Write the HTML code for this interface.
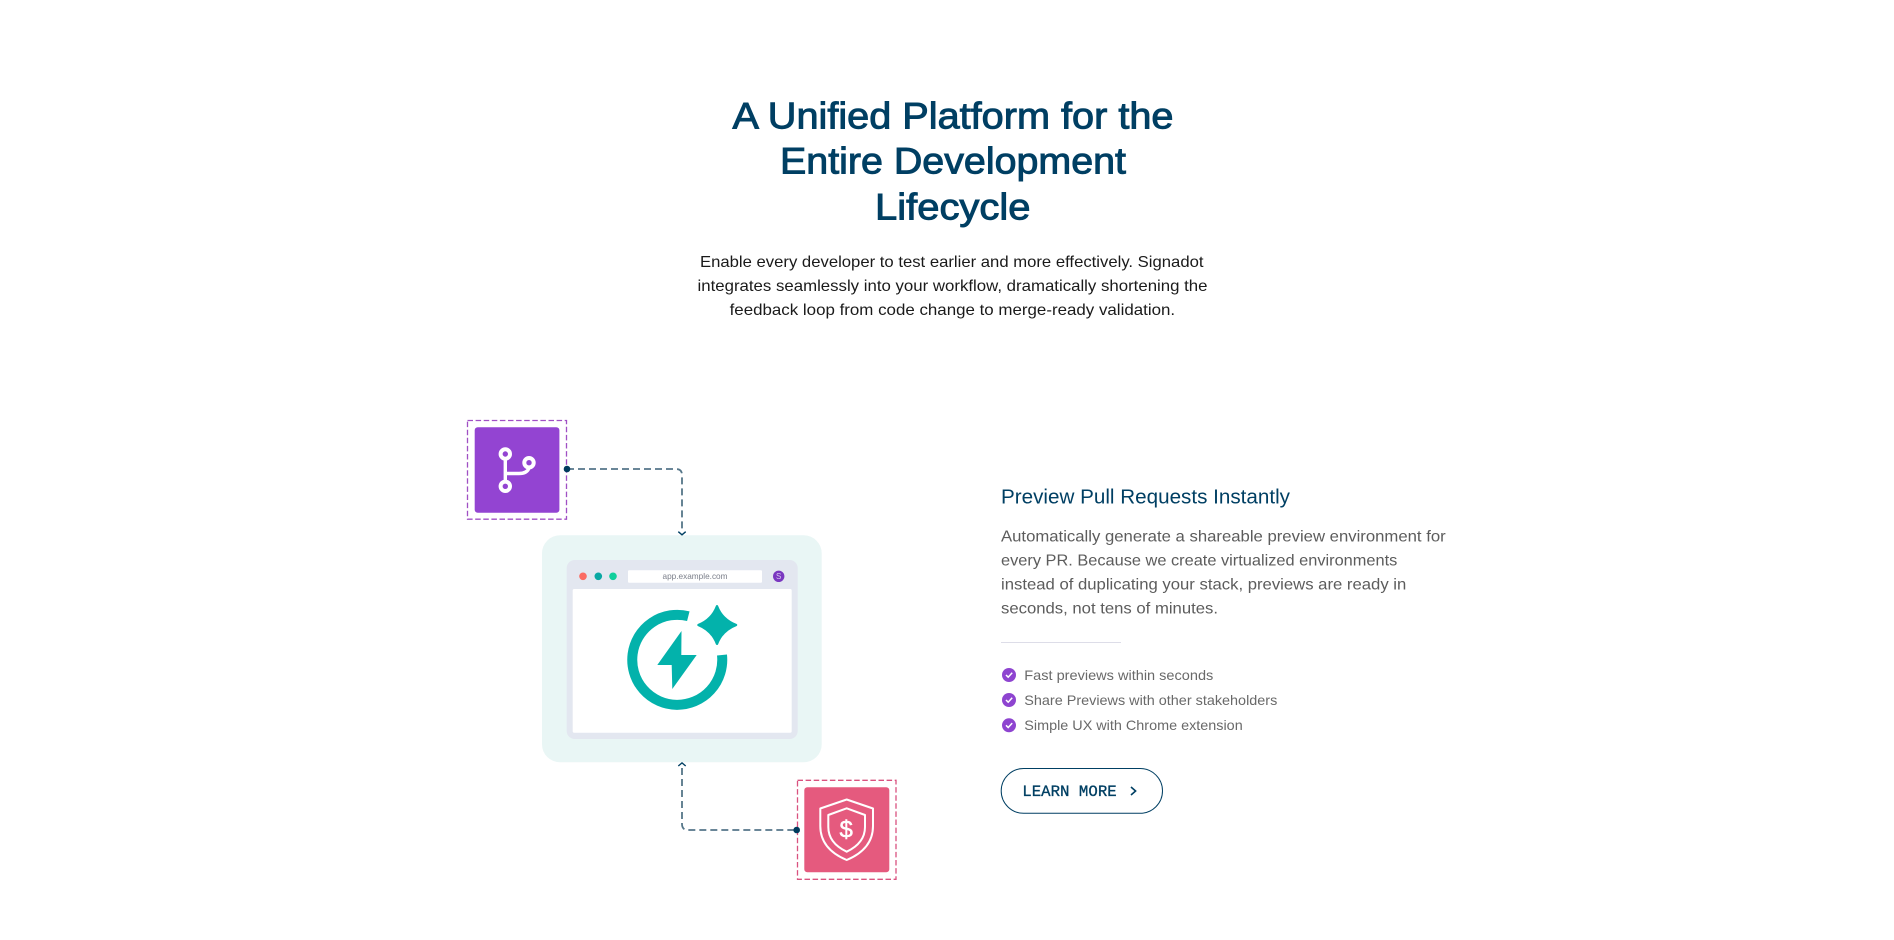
<!DOCTYPE html>
<html lang="en">
<head>
<meta charset="utf-8">
<title>A Unified Platform for the Entire Development Lifecycle</title>
<style>
html,body{margin:0;padding:0;background:#fff;width:1894px;height:940px;overflow:hidden}
svg{display:block}
text{font-family:"Liberation Sans",sans-serif}
.h{font-size:37px;fill:#003f63;stroke:#003f63;stroke-width:.95px}
.p{font-size:16px;fill:#1a1a1a}
.g{font-size:16px;fill:#5c5c5c}
.l{font-size:14px;fill:#696969}
</style>
</head>
<body>
<svg width="1894" height="940" viewBox="0 0 1894 940" xmlns="http://www.w3.org/2000/svg">
<rect width="1894" height="940" fill="#fff"/>

<text class="h" x="732.5" y="128.3" textLength="441" lengthAdjust="spacingAndGlyphs">A Unified Platform for the</text>
<text class="h" x="780" y="173.5" textLength="346" lengthAdjust="spacingAndGlyphs">Entire Development</text>
<text class="h" x="875" y="219.3" textLength="155.5" lengthAdjust="spacingAndGlyphs">Lifecycle</text>

<text class="p" x="700" y="267.2" textLength="503.5" lengthAdjust="spacingAndGlyphs">Enable every developer to test earlier and more effectively. Signadot</text>
<text class="p" x="697.5" y="291.2" textLength="510" lengthAdjust="spacingAndGlyphs">integrates seamlessly into your workflow, dramatically shortening the</text>
<text class="p" x="729.6" y="315.2" textLength="445.5" lengthAdjust="spacingAndGlyphs">feedback loop from code change to merge-ready validation.</text>

<g style="filter:blur(.3px)">
<!-- connectors -->
<path d="M567 469H676Q682 469 682 475V529" fill="none" stroke="#557689" stroke-width="1.8" stroke-dasharray="7 4"/>
<path d="M682 768V824Q682 830 688 830H796" fill="none" stroke="#557689" stroke-width="1.8" stroke-dasharray="7 4"/>

<!-- panel -->
<rect x="542" y="535.3" width="279.7" height="227" rx="18" fill="#e9f6f5"/>
<path d="M678.3 531.7L682 534.8L685.7 531.7" fill="none" stroke="#003f63" stroke-width="1.4"/>
<path d="M678.3 766L682 762.9L685.7 766" fill="none" stroke="#003f63" stroke-width="1.4"/>

<!-- browser -->
<rect x="566.7" y="560" width="231" height="179" rx="8" fill="#e3e7f0"/>
<rect x="572.7" y="589" width="219" height="143.7" rx="1.5" fill="#fff"/>
<circle cx="583" cy="576.3" r="3.8" fill="#fb6b63"/>
<circle cx="598.3" cy="576.3" r="3.8" fill="#0aa8a3"/>
<circle cx="613" cy="576.3" r="3.8" fill="#10cf9c"/>
<rect x="628" y="570.3" width="134" height="12.4" rx="1" fill="#fff"/>
<text x="662.5" y="579.2" font-size="8.5" fill="#7b7f8a" textLength="65" lengthAdjust="spacingAndGlyphs">app.example.com</text>
<circle cx="778.7" cy="576.3" r="5.7" fill="#7a37c0"/>
<text x="778.7" y="579.2" font-size="8" fill="#d9c8f0" text-anchor="middle">S</text>

<!-- spark icon -->
<path d="M688.3 616.2A45 45 0 1 0 722 655" fill="none" stroke="#03b2ab" stroke-width="10"/>
<path d="M681.5 631L657.3 665H671.7L672.3 689L696.7 655H681.3Z" fill="#03b2ab"/>
<path d="M717 606.3Q722 619.5 736 625Q722 630.5 717 643.8Q712 630.5 698.5 625Q712 619.5 717 606.3Z" fill="#03b2ab" stroke="#03b2ab" stroke-width="2.4" stroke-linejoin="round"/>

<!-- purple node -->
<rect x="467.5" y="420.5" width="99" height="98.7" fill="none" stroke="#a050c4" stroke-width="1.3" stroke-dasharray="5.5 2.6"/>
<rect x="474.7" y="427.3" width="84.7" height="85.4" rx="3" fill="#9344d2"/>
<g fill="none" stroke="#fff">
<path d="M505.3 458V482M529 468Q527 473.5 519 473.5H505.3" stroke-width="3.4"/>
<circle cx="505.3" cy="454" r="4.7" stroke-width="4"/>
<circle cx="529" cy="462.7" r="4.7" stroke-width="4"/>
<circle cx="505.3" cy="486.3" r="4.7" stroke-width="4"/>
</g>
<circle cx="567" cy="469" r="3.3" fill="#003a5c"/>

<!-- pink node -->
<rect x="797.5" y="780.3" width="98.5" height="99" fill="none" stroke="#d9527f" stroke-width="1.3" stroke-dasharray="5.5 2.6"/>
<rect x="804.3" y="787.3" width="85" height="85" rx="3" fill="#e55a7e"/>
<g fill="none" stroke="#fff" stroke-width="2" stroke-linejoin="round">
<path d="M846.7 799.5L873 808.5V826Q873 849 846.7 860Q820.3 849 820.3 826V808.5Z"/>
<path d="M846.7 808.3L865 815V827Q865 843 846.7 851.7Q828.3 843 828.3 827V815Z"/>
</g>
<text x="846.2" y="837.6" font-size="24" fill="#fff" stroke="#fff" stroke-width=".5" text-anchor="middle">$</text>
<circle cx="796.7" cy="830" r="3.3" fill="#003a5c"/>
</g>

<!-- right column -->
<text x="1001" y="503.3" font-size="20px" fill="#003f63" textLength="289" lengthAdjust="spacingAndGlyphs">Preview Pull Requests Instantly</text>
<text class="g" x="1001" y="541.4" textLength="444.7" lengthAdjust="spacingAndGlyphs">Automatically generate a shareable preview environment for</text>
<text class="g" x="1001" y="565.4" textLength="396.3" lengthAdjust="spacingAndGlyphs">every PR. Because we create virtualized environments</text>
<text class="g" x="1001" y="589.4" textLength="405.3" lengthAdjust="spacingAndGlyphs">instead of duplicating your stack, previews are ready in</text>
<text class="g" x="1001" y="613.4" textLength="217" lengthAdjust="spacingAndGlyphs">seconds, not tens of minutes.</text>
<rect x="1001" y="642" width="120" height="1" fill="#dddde8"/>

<g fill="#8e44d0">
<circle cx="1009" cy="675" r="7"/>
<circle cx="1009" cy="700" r="7"/>
<circle cx="1009" cy="725.3" r="7"/>
</g>
<g fill="none" stroke="#fff" stroke-width="1.5">
<path d="M1006 675L1008.2 677.2L1012.2 672.8"/>
<path d="M1006 700L1008.2 702.2L1012.2 697.8"/>
<path d="M1006 725.3L1008.2 727.5L1012.2 723.1"/>
</g>
<text class="l" x="1024.3" y="680" textLength="189" lengthAdjust="spacingAndGlyphs">Fast previews within seconds</text>
<text class="l" x="1024.3" y="705" textLength="253" lengthAdjust="spacingAndGlyphs">Share Previews with other stakeholders</text>
<text class="l" x="1024.3" y="730" textLength="218.4" lengthAdjust="spacingAndGlyphs">Simple UX with Chrome extension</text>

<rect x="1001.2" y="768.5" width="161.3" height="44.8" rx="22.4" fill="#fff" stroke="#003f63" stroke-width="1"/>
<text x="1022.3" y="796" font-size="16" fill="#003f63" stroke="#003f63" stroke-width=".3" style="font-family:'Liberation Mono',monospace" textLength="94.4" lengthAdjust="spacingAndGlyphs">LEARN MORE</text>
<path d="M1131 787L1135.6 791L1131 795" fill="none" stroke="#003f63" stroke-width="1.6"/>
</svg>
</body>
</html>
